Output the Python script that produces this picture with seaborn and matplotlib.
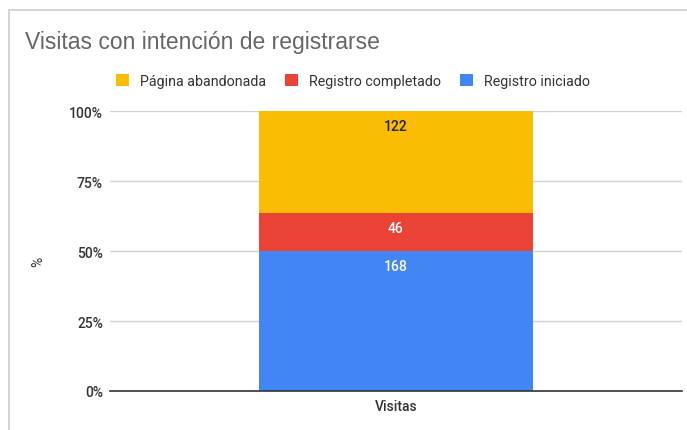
import matplotlib
matplotlib.use("Agg")
import matplotlib.pyplot as plt
from matplotlib.patches import Patch, Rectangle
import seaborn as sns
import pandas as pd
import numpy as np

categories = ["Visitas"]
series = ["Registro iniciado", "Registro completado", "Página abandonada"]
values = [168, 46, 122]
colors = ["#4285F4", "#EA4335", "#FBBC04"]
label_colors = ["white", "white", "#222222"]
yticks = [0, 25, 50, 75, 100]
ytick_labels = ["0%", "25%", "50%", "75%", "100%"]

sns.set_theme(style="white")
plt.rcParams["font.family"] = ["Liberation Sans", "DejaVu Sans"]

total = sum(values)
pct = [v / total * 100 for v in values]
cum = np.cumsum(pct)
df = pd.DataFrame({"cat": categories * len(series), "serie": series,
                   "valor": values, "pct": pct, "cum": cum})

fig = plt.figure(figsize=(6.87, 4.31), dpi=100)
ax = fig.add_axes([0.160, 0.0905, 0.832, 0.6495])

# draw stacked: largest cumulative first
for i in reversed(range(len(series))):
    sub = df.iloc[[i]]
    sns.barplot(data=sub, x="cat", y="cum", color=colors[i], width=0.48,
                ax=ax, saturation=1, linewidth=0, zorder=2)

for i in range(len(series)):
    top = df["cum"].iloc[i]
    ax.text(0, top - 3.0, str(df["valor"].iloc[i]), ha="center", va="top",
            color=label_colors[i], fontsize=10, family="Roboto", fontweight="medium", zorder=3)

ax.set_xlim(-0.5, 0.5)
ax.set_ylim(0, 100)
ax.set_yticks(yticks)
ax.set_yticklabels(ytick_labels)
ax.yaxis.grid(True, color="#d0d0d0", linewidth=1, zorder=0)
ax.set_axisbelow(True)
for s in ["top", "right", "left"]:
    ax.spines[s].set_visible(False)
ax.spines["bottom"].set_color("#333333")
ax.spines["bottom"].set_linewidth(1.2)
ax.spines["bottom"].set_zorder(4)
ax.tick_params(axis="both", length=0, labelsize=10, colors="#333333", pad=5)
ax.tick_params(axis="x", pad=6)
ax.set_xlabel("")
ax.set_ylabel("")
for lbl in ax.get_xticklabels() + ax.get_yticklabels():
    lbl.set_family("Roboto")
    lbl.set_fontweight("medium")

fig.text(38 / 687, 1 - 262 / 431, "%", rotation=90, fontsize=10, color="#333333",
         ha="center", va="center", family="Roboto")

fig.text(25 / 687, 1 - 43 / 431, "Visitas con intención de registrarse",
         fontsize=16.5, color="#666666", ha="left", va="center")

handles = [Patch(facecolor=colors[i], edgecolor="none", label=series[i]) for i in [2, 1, 0]]
leg = fig.legend(handles=handles, loc="center", bbox_to_anchor=(353 / 687, 1 - 82 / 431),
                 ncol=3, frameon=False, fontsize=10.3, handlelength=0.9, handleheight=0.9,
                 columnspacing=1.3, handletextpad=0.8)
for t in leg.get_texts():
    t.set_color("#333333")
    t.set_family("Roboto")

# card border
fig.patches.append(Rectangle((9 / 687, -0.05), 1.1, 1 - 11 / 431 + 0.05, transform=fig.transFigure,
                             fill=False, edgecolor="#cccccc", linewidth=1.2))

fig.savefig("out.png", dpi=100)
